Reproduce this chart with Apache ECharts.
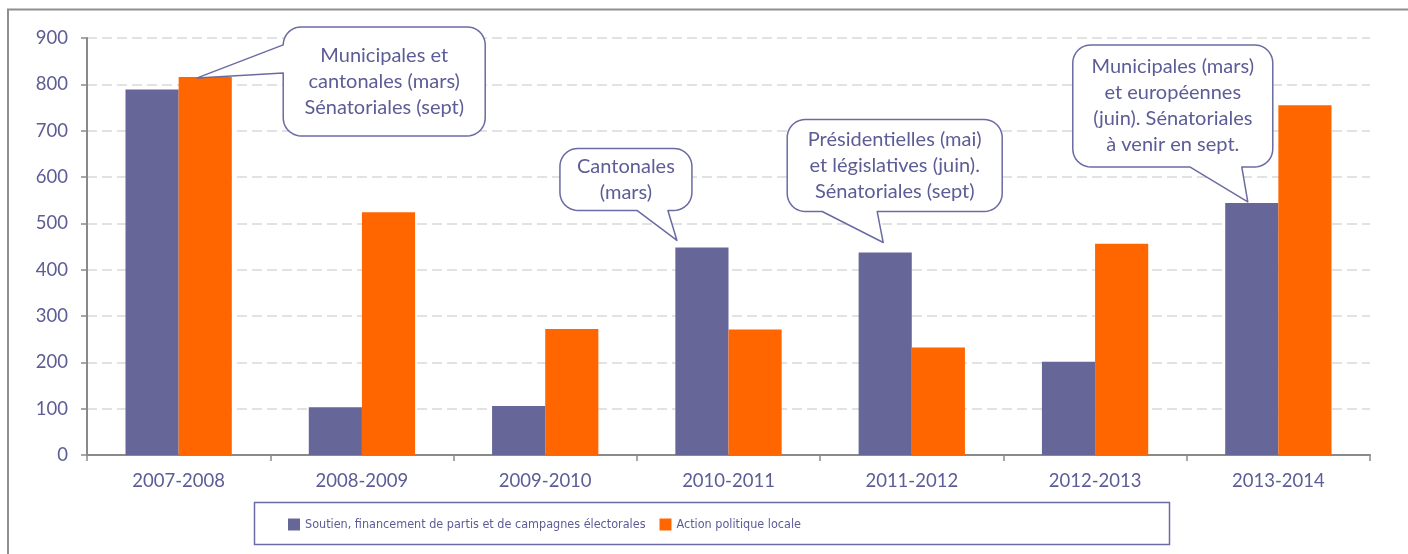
<!DOCTYPE html>
<html><head><meta charset="utf-8">
<script src="https://cdn.jsdelivr.net/npm/echarts@6/dist/echarts.min.js"></script>
<style>html,body{margin:0;padding:0;background:#fff}#c{width:1408px;height:554px}</style>
</head><body><div id="c"></div>
<script>
// ---- data ----
const categories = ['2007-2008', '2008-2009', '2009-2010', '2010-2011', '2011-2012', '2012-2013', '2013-2014'];
const seriesNames = ['Soutien, financement de partis et de campagnes électorales', 'Action politique locale'];
const soutien = [789, 103, 106, 448, 437, 201, 544];
const actionLocale = [816, 524, 272, 271, 232, 456, 755];
const yMin = 0, yMax = 900, yInterval = 100;
const calloutTexts = [
  'Municipales et\ncantonales (mars)\nSénatoriales (sept)',
  'Cantonales\n(mars)',
  'Présidentielles (mai)\net législatives (juin).\nSénatoriales (sept)',
  'Municipales (mars)\net européennes\n(juin). Sénatoriales\nà venir en sept.'
];
const calloutSeries = [1, 0, 0, 0];
const calloutCategory = [0, 3, 4, 6];

// ---- styling / layout (not data) ----
const TXT = '#5c5c96';
const FONT = 'Lato, "Noto Sans", sans-serif';
const calloutLayout = [
  {tip:[-8, 1], box:[86, -51, 202, 109], side:'left', tail:[-33, -5]},
  {tip:[-25, -7], box:[-117, -92, 132, 62], side:'bottom', tail:[-40, -9]},
  {tip:[-2, -10], box:[-96, -123, 215, 92], side:'bottom', tail:[-61, -6]},
  {tip:[-4, -1], box:[-175, -157, 200, 122], side:'bottom', tail:[-58, -6]}
];

const chart = echarts.init(document.getElementById('c'), null, {renderer: 'canvas'});
const option = {
  animation: false,
  backgroundColor: '#fff',
  grid: {left: 87, right: 38, top: 38, bottom: 99},
  legend: {
    left: 283, top: 513, itemGap: 14, itemWidth: 12, itemHeight: 12, icon: 'rect',
    textStyle: {fontFamily: '"Liberation Sans Narrow", "DejaVu Sans Condensed", sans-serif', fontSize: 12.5, color: TXT},
    data: seriesNames
  },
  xAxis: {
    type: 'category', data: categories,
    axisLine: {show: true, lineStyle: {color: '#8a8a8a', width: 2}},
    axisTick: {show: true, length: 6, lineStyle: {color: '#8a8a8a', width: 1.5}},
    axisLabel: {color: TXT, fontFamily: FONT, fontSize: 18.5, margin: 17}
  },
  yAxis: {
    type: 'value', min: yMin, max: yMax, interval: yInterval,
    axisLine: {show: true, lineStyle: {color: '#8a8a8a', width: 2}},
    axisTick: {show: true, length: 6, lineStyle: {color: '#8a8a8a', width: 1.5}},
    axisLabel: {color: TXT, fontFamily: FONT, fontSize: 18.5, margin: 19},
    splitLine: {show: true, lineStyle: {color: '#d9d9d9', width: 1.5, type: [10, 5]}}
  },
  series: [
    {name: seriesNames[0], type: 'bar', data: soutien, barGap: '0%', barCategoryGap: '42%', itemStyle: {color: '#666699'}},
    {name: seriesNames[1], type: 'bar', data: actionLocale, barGap: '0%', barCategoryGap: '42%', itemStyle: {color: '#ff6600'}}
  ]
};
chart.setOption(option);

function arcPts(pts, cx, cy, r, a0, a1) {
  const n = 10;
  for (let k = 0; k <= n; k++) {
    const a = (a0 + (a1 - a0) * k / n) * Math.PI / 180;
    pts.push([cx + r * Math.cos(a), cy + r * Math.sin(a)]);
  }
}
function bubblePoints(L, T, W, H, r, side, a, b, tx, ty) {
  const R = L + W, B = T + H, pts = [];
  arcPts(pts, R - r, T + r, r, -90, 0);
  arcPts(pts, R - r, B - r, r, 0, 90);
  if (side === 'bottom') { pts.push([b, B], [tx, ty], [a, B]); }
  arcPts(pts, L + r, B - r, r, 90, 180);
  if (side === 'left') { pts.push([L, b], [tx, ty], [L, a]); }
  arcPts(pts, L + r, T + r, r, 180, 270);
  return pts;
}

const graphics = [{
  type: 'rect', silent: true, z: 0,
  shape: {x: 8, y: 9.5, width: 1500, height: 700},
  style: {fill: 'none', stroke: '#8e8e8e', lineWidth: 2}
}, {
  type: 'rect', silent: true, z: 0,
  shape: {x: 254.5, y: 502.5, width: 915, height: 42},
  style: {fill: 'none', stroke: '#6b6ba3', lineWidth: 1.5}
}];

const model = chart.getModel();
calloutTexts.forEach((txt, i) => {
  const s = calloutSeries[i], c = calloutCategory[i];
  const lay = model.getSeriesByIndex(s).getData().getItemLayout(c);
  const cx = lay.x + lay.width / 2;
  const top = Math.min(lay.y, lay.y + lay.height);
  const cl = calloutLayout[i];
  const tx = cx + cl.tip[0], ty = top + cl.tip[1];
  const L = tx + cl.box[0], T = ty + cl.box[1], W = cl.box[2], H = cl.box[3];
  let a, b;
  if (cl.side === 'bottom') { a = tx + cl.tail[0]; b = tx + cl.tail[1]; }
  else { a = ty + cl.tail[0]; b = ty + cl.tail[1]; }
  graphics.push({
    type: 'polygon', z: 100, silent: true,
    shape: {points: bubblePoints(L, T, W, H, 18, cl.side, a, b, tx, ty)},
    style: {fill: '#fff', stroke: '#6b6ba3', lineWidth: 1.5, lineJoin: 'round'}
  });
  graphics.push({
    type: 'text', z: 101, silent: true,
    x: L + W / 2, y: T + H / 2,
    style: {text: txt, fill: TXT, fontFamily: FONT, fontSize: 20, lineHeight: 26, align: 'center', verticalAlign: 'middle'}
  });
});
chart.setOption({graphic: graphics});
</script>
</body></html>
